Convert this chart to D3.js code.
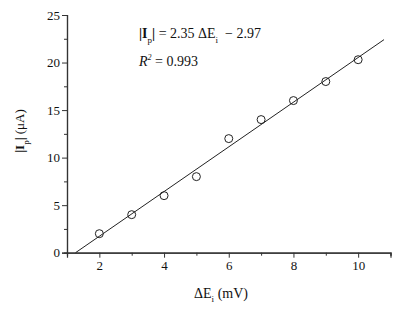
<!DOCTYPE html>
<html><head><meta charset="utf-8">
<script src="https://cdn.jsdelivr.net/npm/d3@7"></script>
<style>body{margin:0;background:#fff}text{font-family:"Liberation Serif","Times New Roman",serif;fill:#111}</style>
</head><body><svg id="c" width="401" height="309"></svg>
<script>
const xValues = [2, 3, 4, 5, 6, 7, 8, 9, 10];
const yValues = [2, 4, 6, 8, 12, 14, 16, 18, 20.3];
const fitSlope = 2.35, fitIntercept = -2.97;
const fitRange = [1.264, 10.8];
const xTicks = [2, 4, 6, 8, 10];
const xMinor = [3, 5, 7, 9, 11];
const yTicks = [0, 5, 10, 15, 20, 25];
const yMinor = [2.5, 7.5, 12.5, 17.5, 22.5];

const svg = d3.select("#c");
const x = d3.scaleLinear().domain([1, 11]).range([67, 390.5]);
const y = d3.scaleLinear().domain([0, 25]).range([252.7, 15]);

const xa = svg.append("g").attr("transform", "translate(0,252.7)");
xa.call(d3.axisBottom(x).tickValues(xTicks).tickSize(5).tickPadding(3).tickFormat(d3.format("d")));
xa.append("g").call(d3.axisBottom(x).tickValues(xMinor).tickSize(3).tickFormat(""));
const ya = svg.append("g").attr("transform", "translate(67,0)");
ya.call(d3.axisLeft(y).tickValues(yTicks).tickSize(5).tickPadding(2).tickFormat(d3.format("d")));
ya.append("g").call(d3.axisLeft(y).tickValues(yMinor).tickSize(3).tickFormat(""));
svg.selectAll(".domain").attr("stroke", "#333").attr("stroke-width", 1.2);
svg.selectAll(".tick line").attr("stroke", "#333");
svg.selectAll(".tick text").attr("font-size", 13).attr("fill", "#111")
  .attr("font-family", "Liberation Serif");

// fit line
svg.append("line")
  .attr("x1", x(fitRange[0])).attr("y1", y(fitSlope * fitRange[0] + fitIntercept))
  .attr("x2", x(fitRange[1])).attr("y2", y(fitSlope * fitRange[1] + fitIntercept))
  .attr("stroke", "#222").attr("stroke-width", 1);

// points
svg.selectAll("circle.pt").data(xValues).join("circle")
  .attr("class", "pt")
  .attr("cx", d => x(d)).attr("cy", (d, i) => y(yValues[i]))
  .attr("r", 4).attr("fill", "none").attr("stroke", "#222").attr("stroke-width", 1);

// annotation
const t1 = svg.append("text").attr("x", 139).attr("y", 38).attr("font-size", 14).attr("font-family", "Liberation Serif");
t1.append("tspan").text("|I").attr("font-weight", "bold");
t1.append("tspan").text("p").attr("font-size", 9).attr("dy", 5);
t1.append("tspan").text("|").attr("font-weight", "bold").attr("dy", -5);
t1.append("tspan").text(" = 2.35 ΔE");
t1.append("tspan").text("i").attr("font-size", 9).attr("dy", 5);
t1.append("tspan").text("\u00a0\u00a0− 2.97").attr("dy", -5);

const t2 = svg.append("text").attr("x", 139).attr("y", 66).attr("font-size", 14).attr("font-family", "Liberation Serif");
t2.append("tspan").text("R").attr("font-style", "italic");
t2.append("tspan").text("2").attr("font-size", 8).attr("dy", -6).attr("font-style", "italic");
t2.append("tspan").text(" = 0.993").attr("dy", 6);

// y label
const yl = svg.append("text").attr("transform", "translate(24,131) rotate(-90)")
  .attr("text-anchor", "middle").attr("font-size", 13).attr("font-family", "Liberation Serif");
yl.append("tspan").text("|I").attr("font-weight", "bold");
yl.append("tspan").text("p").attr("font-size", 9).attr("dy", 5);
yl.append("tspan").text("|").attr("font-weight", "bold").attr("dy", -5);
yl.append("tspan").text(" (μA)");

// x label
const xl = svg.append("text").attr("x", 221).attr("y", 298).attr("text-anchor", "middle").attr("font-size", 14).attr("font-family", "Liberation Serif");
xl.append("tspan").text("ΔE");
xl.append("tspan").text("i").attr("font-size", 9).attr("dy", 4);
xl.append("tspan").text(" (mV)").attr("dy", -4);
</script></body></html>
